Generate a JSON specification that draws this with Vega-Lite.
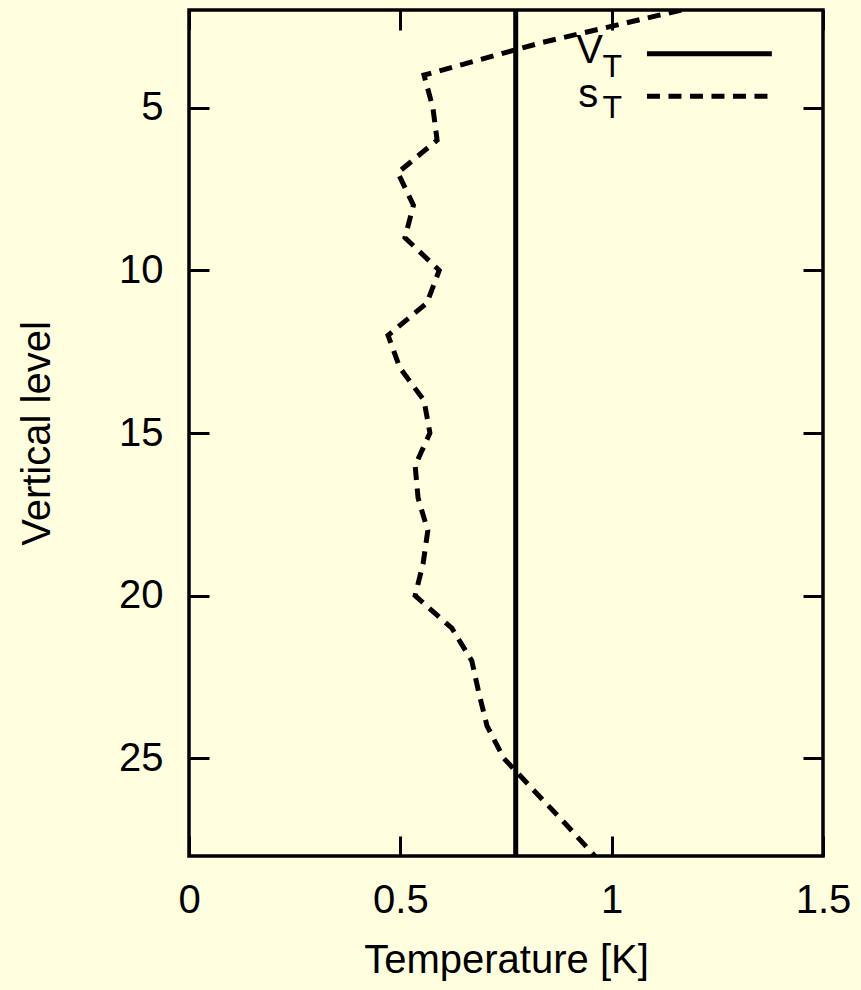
{
  "$schema": "https://vega.github.io/schema/vega-lite/v6.json",
  "width": 634,
  "height": 846,
  "autosize": {"type": "none"},
  "padding": {"left": 189, "top": 10, "right": 38, "bottom": 134},
  "background": "#ffffe0",
  "config": {
    "font": "Liberation Sans",
    "view": {"stroke": "black", "strokeWidth": 3.5},
    "axis": {
      "domain": false,
      "grid": false,
      "tickColor": "black",
      "tickWidth": 3,
      "tickSize": -20,
      "labelFontSize": 40,
      "labelColor": "black",
      "labelFont": "Liberation Sans",
      "labelFlush": false,
      "labelOverlap": false,
      "labelBound": false,
      "titleFontSize": 40,
      "titleFont": "Liberation Sans",
      "titleFontWeight": "normal",
      "titleColor": "black"
    }
  },
  "datasets": {
    "sT": [
      {"level": 2, "temp": 1.165},
      {"level": 3, "temp": 0.835},
      {"level": 4, "temp": 0.556},
      {"level": 5, "temp": 0.577},
      {"level": 6, "temp": 0.587},
      {"level": 7, "temp": 0.494},
      {"level": 8, "temp": 0.531},
      {"level": 9, "temp": 0.511},
      {"level": 10, "temp": 0.592},
      {"level": 11, "temp": 0.563},
      {"level": 12, "temp": 0.471},
      {"level": 13, "temp": 0.499},
      {"level": 14, "temp": 0.556},
      {"level": 15, "temp": 0.570},
      {"level": 16, "temp": 0.535},
      {"level": 17, "temp": 0.542},
      {"level": 18, "temp": 0.565},
      {"level": 19, "temp": 0.554},
      {"level": 20, "temp": 0.535},
      {"level": 21, "temp": 0.622},
      {"level": 22, "temp": 0.669},
      {"level": 23, "temp": 0.686},
      {"level": 24, "temp": 0.705},
      {"level": 25, "temp": 0.745},
      {"level": 26, "temp": 0.817},
      {"level": 27, "temp": 0.890},
      {"level": 28, "temp": 0.960}
    ],
    "vT": [
      {"series": "V_T", "temp": 0.773}
    ],
    "key": [
      {"entry": "legend"}
    ]
  },
  "resolve": {"axis": {"x": "independent", "y": "independent"}},
  "layer": [
    {
      "data": {"name": "sT"},
      "mark": {"type": "line", "color": "black", "strokeWidth": 5, "strokeDash": [13, 8.5], "strokeCap": "butt", "strokeJoin": "miter", "clip": true},
      "encoding": {
        "x": {
          "field": "temp", "type": "quantitative",
          "scale": {"domain": [0, 1.5], "nice": false, "zero": false},
          "axis": {"orient": "bottom", "values": [0, 0.5, 1, 1.5], "labelExpr": "'' + datum.value", "labelPadding": 44, "title": "Temperature [K]", "titlePadding": 20}
        },
        "y": {
          "field": "level", "type": "quantitative",
          "scale": {"domain": [2, 28], "reverse": true, "nice": false, "zero": false},
          "axis": {"orient": "left", "values": [5, 10, 15, 20, 25], "labelPadding": 46, "title": "Vertical level", "titlePadding": 61}
        },
        "order": {"field": "level", "type": "quantitative"}
      }
    },
    {
      "data": {"name": "vT"},
      "mark": {"type": "rule", "color": "black", "strokeWidth": 5},
      "encoding": {
        "x": {
          "field": "temp", "type": "quantitative",
          "axis": {"orient": "top", "values": [0, 0.5, 1, 1.5], "labels": false, "title": null}
        }
      }
    },
    {
      "data": {"name": "key"},
      "mark": {"type": "rule", "color": "black", "strokeWidth": 5},
      "encoding": {
        "x": {"datum": 1.0835, "type": "quantitative", "axis": null},
        "x2": {"datum": 1.379},
        "y": {"datum": 3.346, "type": "quantitative", "axis": {"orient": "right", "values": [5, 10, 15, 20, 25], "labels": false, "title": null}}
      }
    },
    {
      "data": {"name": "key"},
      "mark": {"type": "rule", "color": "black", "strokeWidth": 5, "strokeDash": [13, 8.5], "strokeCap": "butt"},
      "encoding": {
        "x": {"datum": 1.0835, "type": "quantitative", "axis": null},
        "x2": {"datum": 1.375},
        "y": {"datum": 4.654, "type": "quantitative", "axis": null}
      }
    },
    {
      "data": {"name": "key"},
      "mark": {"type": "text", "fontSize": 40, "align": "right", "baseline": "alphabetic", "color": "black"},
      "encoding": {
        "x": {"datum": 0.9795, "type": "quantitative", "axis": null},
        "y": {"datum": 3.643, "type": "quantitative", "axis": null},
        "text": {"value": "V"}
      }
    },
    {
      "data": {"name": "key"},
      "mark": {"type": "text", "fontSize": 32, "align": "right", "baseline": "alphabetic", "color": "black"},
      "encoding": {
        "x": {"datum": 1.0244, "type": "quantitative", "axis": null},
        "y": {"datum": 4.056, "type": "quantitative", "axis": null},
        "text": {"value": "T"}
      }
    },
    {
      "data": {"name": "key"},
      "mark": {"type": "text", "fontSize": 40, "align": "right", "baseline": "alphabetic", "color": "black"},
      "encoding": {
        "x": {"datum": 0.968, "type": "quantitative", "axis": null},
        "y": {"datum": 4.99, "type": "quantitative", "axis": null},
        "text": {"value": "s"}
      }
    },
    {
      "data": {"name": "key"},
      "mark": {"type": "text", "fontSize": 32, "align": "right", "baseline": "alphabetic", "color": "black"},
      "encoding": {
        "x": {"datum": 1.0244, "type": "quantitative", "axis": null},
        "y": {"datum": 5.33, "type": "quantitative", "axis": null},
        "text": {"value": "T"}
      }
    }
  ]
}
